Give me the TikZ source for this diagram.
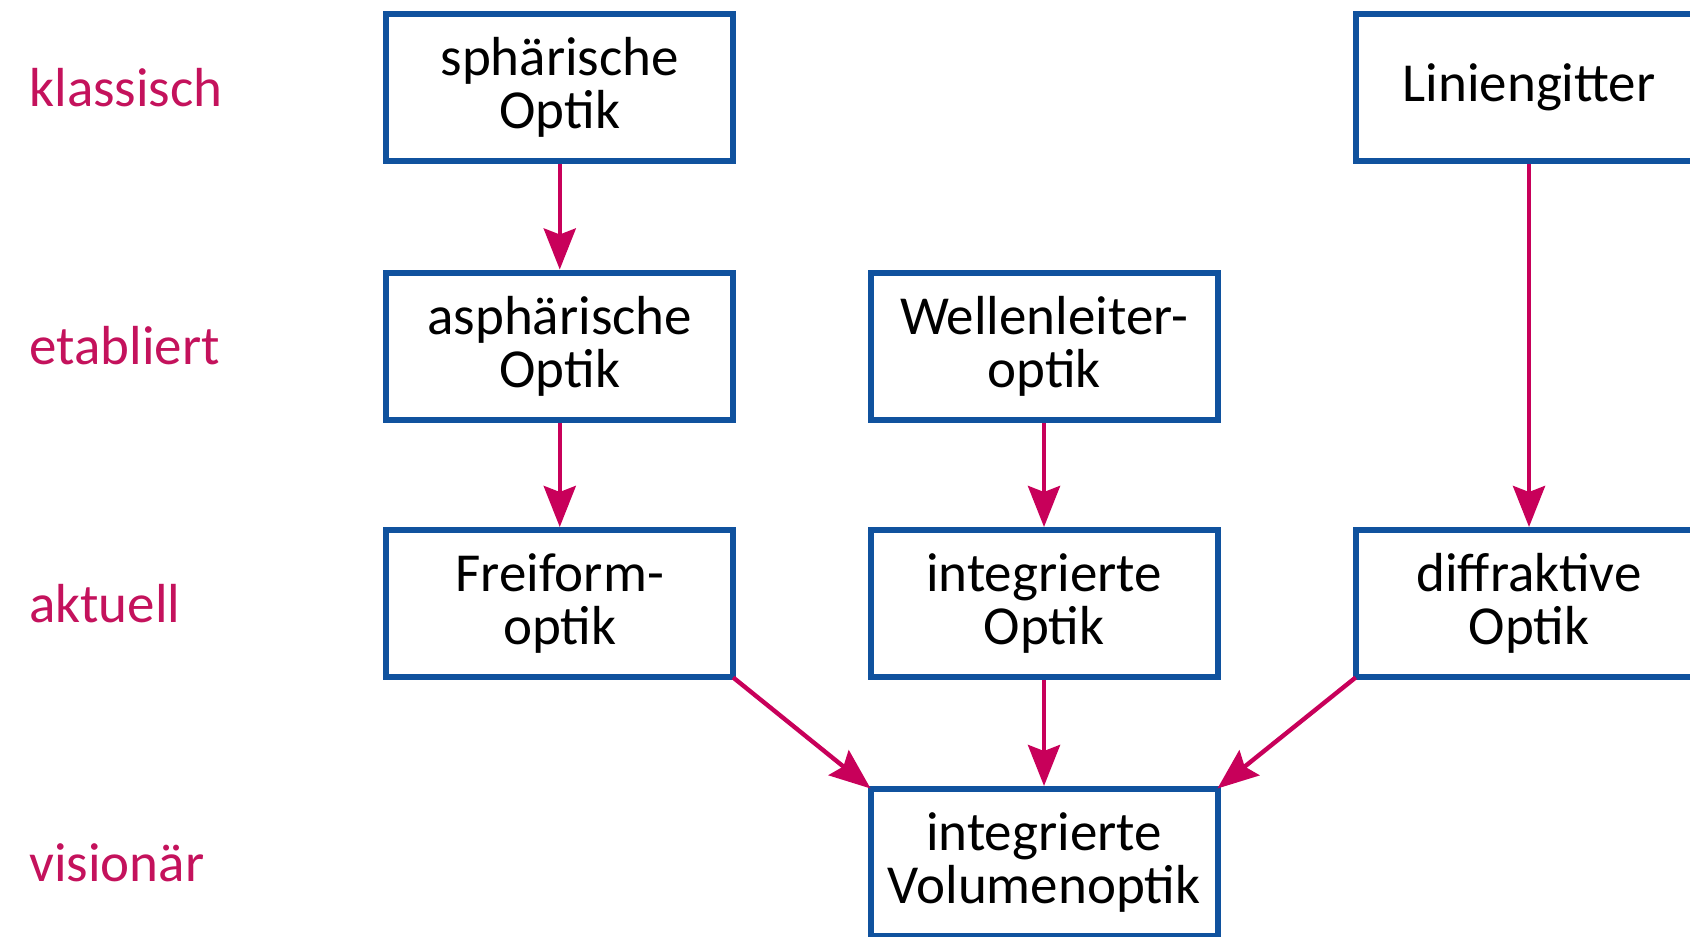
\documentclass[tikz,border=0pt]{standalone}
\usepackage{fontspec}
\setmainfont{Carlito}
\usetikzlibrary{arrows.meta}
\definecolor{boxblue}{RGB}{16,82,158}
\definecolor{arrowred}{RGB}{200,0,90}
\definecolor{labelred}{RGB}{196,18,92}
\begin{document}
\begin{tikzpicture}[x=0.5pt,y=-0.5pt,
  optbox/.style={draw=boxblue, line width=3pt, minimum width=173.5pt, minimum height=73.5pt,
    align=center, inner sep=0pt, font=\fontsize{27.5}{26.5}\selectfont},
  level/.style={anchor=west, text=labelred, inner sep=0pt, font=\fontsize{27.5}{33}\selectfont},
  flow/.style={draw=arrowred, line width=2.2pt, -{Stealth[length=20.5pt,width=16pt,inset=3pt]}},
  diag/.style={shorten <=-2pt, shorten >=-2pt}]
\useasboundingbox (0,0) rectangle (1690,936);
\clip (0,0) rectangle (1690,936);
% row labels
\node[level] (l1) at (29,87.5) {klassisch};
\node[level] (l2) at (29,346) {etabliert};
\node[level] (l3) at (29,603.5) {aktuell};
\node[level] (l4) at (29,862.5) {visionär};
% boxes
\node[optbox] (sph)   at (559.75,87.5)  {sphärische\\Optik};
\node[optbox] (lin)   at (1529,87.5)    {Liniengitter};
\node[optbox] (asph)  at (559.75,346)   {asphärische\\Optik};
\node[optbox] (well)  at (1044,346)     {Wellenleiter-\\optik};
\node[optbox] (frei)  at (559.75,603.5) {Freiform-\\optik};
\node[optbox] (integ) at (1044,603.5)   {integrierte\\Optik};
\node[optbox] (diff)  at (1529,603.5)   {diffraktive\\Optik};
\node[optbox] (vol)   at (1044,862.5)   {integrierte\\Volumenoptik};
% arrows
\draw[flow] (sph.south) -- (asph.north);
\draw[flow] (asph.south) -- (frei.north);
\draw[flow] (well.south) -- (integ.north);
\draw[flow] (lin.south) -- (diff.north);
\draw[flow] (integ.south) -- (vol.north);
\draw[flow,diag] (frei.south east) -- (vol.north west);
\draw[flow,diag] (diff.south west) -- (vol.north east);
\end{tikzpicture}
\end{document}
